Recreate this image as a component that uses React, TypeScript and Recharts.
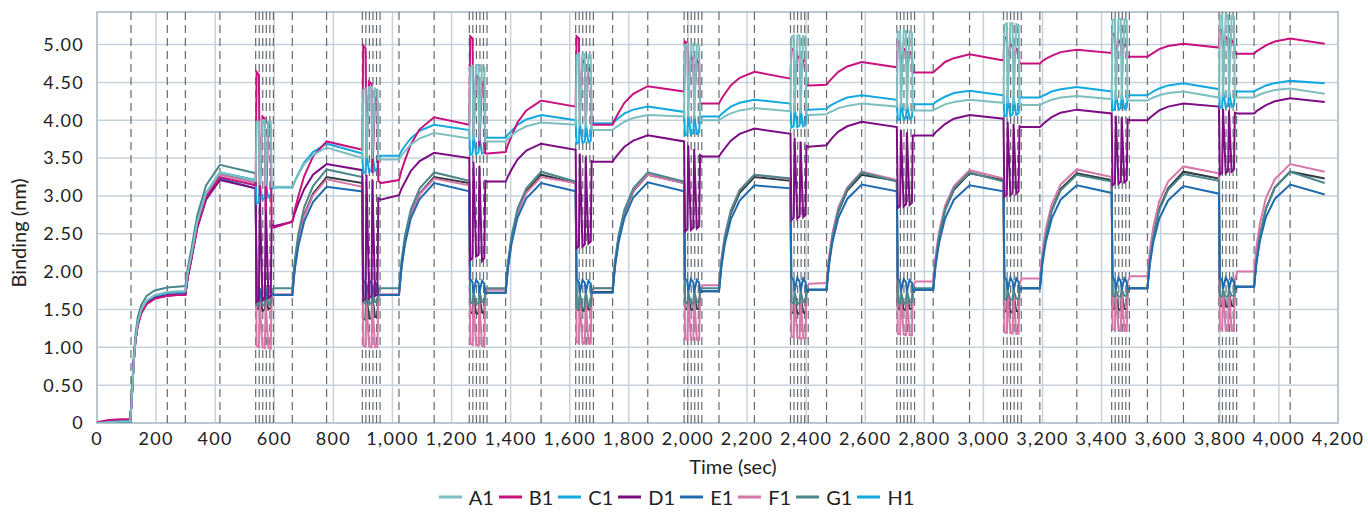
import { CartesianGrid, Legend, Line, LineChart, ReferenceArea, ReferenceLine, XAxis, YAxis } from 'recharts';

const FONT = 'Lato, "Noto Sans", sans-serif';

// time axis (sec): start-up, then one row per binding cycle
// cycle row = start, rise x4, peak, regen start, 3 regen pulses (in, hold, out), settle
const time = [
  0, 40, 80, 112, 116, 120, 124, 130, 138, 150, 168, 195, 238, 270,
  299, 307, 319, 339, 369, 416, 537, 540, 548, 551, 560, 568, 571, 580, 588, 591, 599,
  661, 669, 681, 701, 731, 777, 898, 901, 909, 912, 921, 929, 932, 941, 949, 952, 960,
  1022, 1030, 1042, 1062, 1092, 1141, 1260, 1263, 1271, 1274, 1283, 1291, 1294, 1303, 1311, 1314, 1322,
  1383, 1391, 1403, 1423, 1453, 1503, 1620, 1623, 1631, 1634, 1643, 1651, 1654, 1663, 1671, 1674, 1682,
  1745, 1753, 1765, 1785, 1815, 1864, 1987, 1990, 1998, 2001, 2010, 2018, 2021, 2030, 2038, 2041, 2049,
  2105, 2113, 2125, 2145, 2175, 2225, 2347, 2350, 2358, 2361, 2370, 2378, 2381, 2390, 2398, 2401, 2409,
  2469, 2477, 2489, 2509, 2539, 2588, 2707, 2710, 2718, 2721, 2730, 2738, 2741, 2750, 2758, 2761, 2769,
  2830, 2838, 2850, 2870, 2900, 2953, 3068, 3071, 3079, 3082, 3091, 3099, 3102, 3111, 3119, 3122, 3130,
  3191, 3199, 3211, 3231, 3261, 3316, 3434, 3437, 3445, 3448, 3457, 3465, 3468, 3477, 3485, 3488, 3496,
  3555, 3563, 3575, 3595, 3625, 3677, 3797, 3800, 3808, 3811, 3820, 3828, 3831, 3840, 3848, 3851, 3859,
  3916, 3924, 3936, 3956, 3986, 4038, 4155,
];

const a1 = [
  0.00, 0.01, 0.02, 0.02, 0.20, 0.48, 0.78, 1.10, 1.33, 1.50, 1.62, 1.69, 1.73, 1.74,
  1.74, 1.98, 2.21, 2.65, 3.04, 3.31, 3.20, 3.98, 3.98, 3.14, 4.00, 4.00, 3.13, 3.98, 3.98, 3.12, 3.12,
  3.12, 3.19, 3.28, 3.42, 3.54, 3.64, 3.50, 4.40, 4.42, 3.50, 4.44, 4.44, 3.49, 4.42, 4.40, 3.48, 3.48,
  3.48, 3.53, 3.59, 3.68, 3.76, 3.83, 3.76, 4.70, 4.72, 3.74, 4.73, 4.73, 3.73, 4.72, 4.70, 3.72, 3.72,
  3.72, 3.76, 3.80, 3.86, 3.92, 3.97, 3.94, 4.86, 4.88, 3.92, 4.88, 4.88, 3.90, 4.86, 4.86, 3.88, 3.87,
  3.87, 3.90, 3.93, 3.98, 4.03, 4.07, 4.05, 4.99, 5.01, 4.04, 5.01, 5.01, 4.02, 5.00, 4.99, 4.00, 4.00,
  4.00, 4.02, 4.05, 4.09, 4.13, 4.16, 4.12, 5.10, 5.12, 4.10, 5.12, 5.12, 4.09, 5.11, 5.10, 4.07, 4.07,
  4.08, 4.10, 4.12, 4.16, 4.19, 4.22, 4.18, 5.16, 5.18, 4.16, 5.18, 5.18, 4.15, 5.17, 5.16, 4.13, 4.13,
  4.13, 4.15, 4.17, 4.21, 4.24, 4.27, 4.23, 5.26, 5.28, 4.22, 5.28, 5.28, 4.21, 5.27, 5.26, 4.20, 4.20,
  4.20, 4.22, 4.24, 4.27, 4.30, 4.32, 4.28, 5.32, 5.34, 4.27, 5.34, 5.34, 4.27, 5.33, 5.32, 4.26, 4.26,
  4.26, 4.28, 4.30, 4.33, 4.36, 4.38, 4.30, 5.37, 5.39, 4.30, 5.39, 5.39, 4.30, 5.38, 5.37, 4.30, 4.30,
  4.30, 4.32, 4.34, 4.37, 4.40, 4.42, 4.35,
];

const b1 = [
  0.01, 0.04, 0.05, 0.05, 0.22, 0.50, 0.80, 1.08, 1.29, 1.45, 1.57, 1.64, 1.68, 1.69,
  1.69, 1.92, 2.16, 2.59, 2.98, 3.25, 3.14, 4.64, 4.60, 3.00, 4.05, 4.02, 2.80, 3.95, 3.90, 2.60, 2.58,
  2.66, 2.81, 2.99, 3.26, 3.52, 3.72, 3.61, 4.99, 4.95, 3.55, 4.51, 4.48, 3.30, 4.30, 4.25, 3.20, 3.17,
  3.21, 3.33, 3.47, 3.68, 3.88, 4.04, 3.94, 5.11, 5.08, 3.80, 4.60, 4.55, 3.65, 4.50, 4.45, 3.56, 3.56,
  3.58, 3.68, 3.79, 3.97, 4.13, 4.26, 4.18, 5.11, 5.08, 4.05, 4.80, 4.75, 3.98, 4.70, 4.65, 3.94, 3.94,
  3.94, 4.01, 4.10, 4.23, 4.35, 4.45, 4.38, 5.04, 5.02, 4.30, 4.85, 4.80, 4.25, 4.80, 4.75, 4.22, 4.22,
  4.22, 4.28, 4.35, 4.46, 4.56, 4.64, 4.55, 4.95, 4.92, 4.50, 4.85, 4.82, 4.48, 4.80, 4.78, 4.46, 4.46,
  4.47, 4.51, 4.56, 4.64, 4.71, 4.77, 4.70, 5.05, 5.02, 4.66, 4.95, 4.92, 4.64, 4.90, 4.88, 4.63, 4.63,
  4.63, 4.66, 4.70, 4.77, 4.82, 4.87, 4.79, 5.10, 5.08, 4.77, 5.00, 4.98, 4.76, 4.95, 4.92, 4.75, 4.75,
  4.75, 4.78, 4.81, 4.85, 4.90, 4.93, 4.89, 5.15, 5.12, 4.86, 5.05, 5.02, 4.85, 5.00, 4.98, 4.84, 4.84,
  4.84, 4.86, 4.89, 4.94, 4.98, 5.01, 4.96, 5.20, 5.18, 4.92, 5.10, 5.08, 4.90, 5.05, 5.02, 4.88, 4.88,
  4.88, 4.91, 4.94, 4.99, 5.04, 5.08, 5.01,
];

const c1 = [
  0.00, 0.02, 0.02, 0.02, 0.21, 0.49, 0.79, 1.10, 1.33, 1.49, 1.61, 1.68, 1.72, 1.73,
  1.73, 1.97, 2.20, 2.65, 3.04, 3.31, 3.21, 2.90, 2.92, 3.15, 2.95, 2.97, 3.13, 2.98, 3.00, 3.12, 3.11,
  3.11, 3.19, 3.29, 3.44, 3.58, 3.69, 3.56, 3.30, 3.32, 3.55, 3.32, 3.34, 3.54, 3.33, 3.35, 3.53, 3.53,
  3.53, 3.59, 3.66, 3.76, 3.86, 3.94, 3.87, 3.54, 3.56, 3.82, 3.55, 3.57, 3.80, 3.56, 3.58, 3.78, 3.77,
  3.77, 3.81, 3.86, 3.94, 4.01, 4.07, 4.00, 3.69, 3.71, 3.98, 3.70, 3.72, 3.97, 3.71, 3.73, 3.96, 3.96,
  3.96, 3.99, 4.03, 4.09, 4.14, 4.18, 4.11, 3.80, 3.82, 4.08, 3.81, 3.83, 4.07, 3.82, 3.84, 4.05, 4.05,
  4.05, 4.08, 4.12, 4.18, 4.23, 4.27, 4.22, 3.90, 3.92, 4.18, 3.91, 3.93, 4.16, 3.92, 3.94, 4.14, 4.14,
  4.15, 4.18, 4.21, 4.25, 4.30, 4.33, 4.27, 4.00, 4.02, 4.25, 4.01, 4.03, 4.23, 4.02, 4.04, 4.21, 4.21,
  4.21, 4.24, 4.27, 4.31, 4.36, 4.39, 4.33, 4.05, 4.07, 4.32, 4.06, 4.08, 4.31, 4.07, 4.09, 4.30, 4.30,
  4.30, 4.32, 4.34, 4.38, 4.41, 4.44, 4.38, 4.13, 4.15, 4.36, 4.14, 4.16, 4.35, 4.15, 4.17, 4.33, 4.33,
  4.33, 4.35, 4.38, 4.42, 4.46, 4.49, 4.41, 4.16, 4.18, 4.40, 4.17, 4.19, 4.39, 4.18, 4.20, 4.38, 4.38,
  4.38, 4.40, 4.42, 4.46, 4.49, 4.52, 4.49,
];

const d1 = [
  0.00, 0.03, 0.04, 0.04, 0.22, 0.50, 0.80, 1.08, 1.30, 1.46, 1.58, 1.65, 1.68, 1.69,
  1.69, 1.92, 2.15, 2.57, 2.95, 3.21, 3.10, 1.60, 1.62, 3.05, 1.62, 1.64, 2.95, 1.65, 1.68, 2.62, 2.60,
  2.66, 2.77, 2.90, 3.09, 3.28, 3.42, 3.34, 1.62, 1.64, 3.28, 1.65, 1.68, 3.22, 1.68, 1.70, 2.97, 2.95,
  3.01, 3.09, 3.18, 3.33, 3.46, 3.57, 3.50, 2.15, 2.18, 3.45, 2.20, 2.22, 3.40, 2.14, 2.18, 3.20, 3.19,
  3.19, 3.26, 3.35, 3.48, 3.60, 3.69, 3.61, 2.31, 2.34, 3.56, 2.33, 2.36, 3.52, 2.37, 2.40, 3.46, 3.45,
  3.45, 3.50, 3.56, 3.65, 3.73, 3.80, 3.72, 2.53, 2.56, 3.67, 2.55, 2.58, 3.62, 2.57, 2.60, 3.54, 3.52,
  3.52, 3.57, 3.63, 3.73, 3.82, 3.89, 3.82, 2.68, 2.71, 3.77, 2.70, 2.73, 3.72, 2.72, 2.75, 3.66, 3.65,
  3.67, 3.71, 3.77, 3.85, 3.92, 3.98, 3.91, 2.84, 2.87, 3.87, 2.86, 2.89, 3.84, 2.88, 2.91, 3.80, 3.80,
  3.80, 3.84, 3.88, 3.95, 4.02, 4.07, 4.02, 2.99, 3.02, 3.98, 3.01, 3.04, 3.95, 3.03, 3.06, 3.92, 3.91,
  3.91, 3.94, 3.98, 4.04, 4.10, 4.14, 4.09, 3.14, 3.17, 4.06, 3.16, 3.19, 4.04, 3.18, 3.21, 4.01, 4.00,
  4.00, 4.03, 4.07, 4.13, 4.18, 4.22, 4.18, 3.28, 3.31, 4.15, 3.30, 3.33, 4.13, 3.32, 3.35, 4.10, 4.09,
  4.09, 4.12, 4.15, 4.20, 4.25, 4.29, 4.24,
];

const e1 = [
  0.00, 0.01, 0.02, 0.02, 0.21, 0.49, 0.79, 1.09, 1.31, 1.47, 1.59, 1.66, 1.69, 1.70,
  1.70, 1.93, 2.16, 2.59, 2.97, 3.23, 3.10, 1.62, 1.64, 1.78, 1.64, 1.66, 1.76, 1.66, 1.68, 1.72, 1.69,
  1.69, 2.02, 2.33, 2.66, 2.92, 3.12, 3.06, 1.88, 1.85, 1.70, 1.88, 1.84, 1.70, 1.86, 1.82, 1.70, 1.69,
  1.69, 2.03, 2.36, 2.70, 2.96, 3.17, 3.06, 1.90, 1.86, 1.72, 1.89, 1.85, 1.72, 1.88, 1.84, 1.72, 1.72,
  1.72, 2.05, 2.37, 2.71, 2.97, 3.17, 3.06, 1.90, 1.86, 1.72, 1.89, 1.85, 1.72, 1.88, 1.84, 1.72, 1.72,
  1.72, 2.06, 2.38, 2.71, 2.98, 3.18, 3.06, 1.91, 1.87, 1.73, 1.90, 1.86, 1.73, 1.89, 1.85, 1.74, 1.74,
  1.74, 2.06, 2.37, 2.69, 2.94, 3.14, 3.10, 1.93, 1.88, 1.74, 1.92, 1.87, 1.74, 1.91, 1.86, 1.75, 1.76,
  1.76, 2.08, 2.39, 2.71, 2.96, 3.15, 3.06, 1.91, 1.87, 1.74, 1.90, 1.86, 1.74, 1.89, 1.85, 1.75, 1.76,
  1.76, 2.08, 2.38, 2.70, 2.95, 3.14, 3.06, 1.93, 1.88, 1.75, 1.92, 1.87, 1.75, 1.91, 1.86, 1.77, 1.78,
  1.78, 2.09, 2.39, 2.70, 2.95, 3.14, 3.04, 1.93, 1.88, 1.76, 1.92, 1.87, 1.76, 1.91, 1.86, 1.77, 1.78,
  1.78, 2.09, 2.39, 2.70, 2.94, 3.13, 3.03, 1.93, 1.88, 1.77, 1.92, 1.87, 1.77, 1.91, 1.86, 1.78, 1.80,
  1.80, 2.11, 2.41, 2.72, 2.96, 3.15, 3.02,
];

const f1 = [
  0.00, 0.02, 0.03, 0.03, 0.22, 0.50, 0.80, 1.10, 1.32, 1.48, 1.60, 1.67, 1.71, 1.72,
  1.72, 1.95, 2.19, 2.62, 3.01, 3.28, 3.17, 1.02, 1.00, 1.60, 1.00, 0.99, 1.62, 0.99, 0.98, 1.66, 1.70,
  1.70, 2.05, 2.38, 2.73, 3.01, 3.22, 3.12, 1.02, 1.01, 1.60, 1.01, 1.00, 1.62, 1.00, 1.00, 1.66, 1.70,
  1.70, 2.05, 2.39, 2.74, 3.02, 3.23, 3.14, 1.05, 1.03, 1.62, 1.03, 1.02, 1.64, 1.02, 1.01, 1.70, 1.76,
  1.76, 2.10, 2.43, 2.77, 3.04, 3.25, 3.17, 1.07, 1.06, 1.64, 1.06, 1.05, 1.66, 1.05, 1.05, 1.72, 1.78,
  1.78, 2.13, 2.46, 2.80, 3.07, 3.28, 3.17, 1.11, 1.10, 1.66, 1.10, 1.10, 1.68, 1.10, 1.10, 1.76, 1.82,
  1.82, 2.16, 2.48, 2.81, 3.08, 3.28, 3.22, 1.14, 1.13, 1.68, 1.13, 1.12, 1.70, 1.12, 1.12, 1.78, 1.84,
  1.85, 2.19, 2.51, 2.85, 3.11, 3.32, 3.21, 1.18, 1.17, 1.70, 1.17, 1.16, 1.72, 1.16, 1.16, 1.80, 1.87,
  1.87, 2.21, 2.53, 2.87, 3.13, 3.34, 3.23, 1.20, 1.19, 1.72, 1.19, 1.18, 1.74, 1.18, 1.18, 1.84, 1.91,
  1.91, 2.24, 2.56, 2.89, 3.15, 3.35, 3.25, 1.24, 1.23, 1.74, 1.23, 1.22, 1.76, 1.22, 1.22, 1.86, 1.94,
  1.94, 2.27, 2.59, 2.93, 3.19, 3.39, 3.30, 1.24, 1.23, 1.76, 1.23, 1.22, 1.78, 1.22, 1.22, 1.90, 2.00,
  2.00, 2.33, 2.64, 2.97, 3.22, 3.42, 3.32,
];

const g1 = [
  0.00, 0.02, 0.03, 0.03, 0.24, 0.53, 0.85, 1.16, 1.40, 1.56, 1.68, 1.75, 1.79, 1.80,
  1.81, 2.05, 2.29, 2.74, 3.14, 3.41, 3.30, 1.56, 1.55, 1.72, 1.55, 1.56, 1.73, 1.57, 1.58, 1.76, 1.78,
  1.78, 2.14, 2.49, 2.85, 3.13, 3.35, 3.25, 1.60, 1.58, 1.72, 1.58, 1.58, 1.73, 1.60, 1.60, 1.76, 1.78,
  1.78, 2.13, 2.47, 2.82, 3.10, 3.31, 3.20, 1.60, 1.58, 1.74, 1.58, 1.58, 1.75, 1.60, 1.60, 1.77, 1.78,
  1.78, 2.13, 2.47, 2.83, 3.10, 3.32, 3.19, 1.52, 1.50, 1.72, 1.52, 1.52, 1.74, 1.54, 1.55, 1.77, 1.78,
  1.78, 2.13, 2.47, 2.82, 3.10, 3.31, 3.19, 1.60, 1.58, 1.73, 1.58, 1.58, 1.75, 1.60, 1.60, 1.77, 1.78,
  1.78, 2.13, 2.46, 2.80, 3.07, 3.28, 3.23, 1.60, 1.58, 1.73, 1.58, 1.58, 1.75, 1.60, 1.60, 1.76, 1.76,
  1.76, 2.12, 2.46, 2.81, 3.09, 3.31, 3.19, 1.60, 1.58, 1.74, 1.58, 1.58, 1.75, 1.60, 1.60, 1.77, 1.78,
  1.78, 2.13, 2.47, 2.82, 3.10, 3.31, 3.19, 1.64, 1.63, 1.75, 1.63, 1.63, 1.76, 1.64, 1.64, 1.78, 1.78,
  1.78, 2.13, 2.46, 2.80, 3.07, 3.28, 3.19, 1.68, 1.67, 1.76, 1.67, 1.67, 1.77, 1.68, 1.68, 1.78, 1.78,
  1.78, 2.13, 2.46, 2.81, 3.08, 3.29, 3.20, 1.68, 1.67, 1.76, 1.67, 1.67, 1.77, 1.68, 1.68, 1.79, 1.80,
  1.80, 2.15, 2.48, 2.83, 3.11, 3.32, 3.17,
];

const h1 = [
  0.00, 0.01, 0.02, 0.02, 0.21, 0.49, 0.79, 1.09, 1.31, 1.47, 1.59, 1.66, 1.69, 1.70,
  1.70, 1.94, 2.18, 2.63, 3.03, 3.30, 3.17, 1.52, 1.50, 1.66, 1.48, 1.50, 1.66, 1.50, 1.52, 1.68, 1.69,
  1.69, 2.05, 2.39, 2.75, 3.03, 3.25, 3.17, 1.38, 1.36, 1.66, 1.38, 1.38, 1.66, 1.40, 1.40, 1.68, 1.69,
  1.69, 2.05, 2.39, 2.75, 3.03, 3.25, 3.17, 1.46, 1.45, 1.66, 1.45, 1.44, 1.68, 1.46, 1.45, 1.70, 1.72,
  1.72, 2.08, 2.42, 2.78, 3.06, 3.28, 3.17, 1.50, 1.49, 1.68, 1.49, 1.48, 1.69, 1.50, 1.50, 1.71, 1.73,
  1.73, 2.09, 2.43, 2.78, 3.06, 3.28, 3.17, 1.51, 1.50, 1.68, 1.50, 1.49, 1.70, 1.51, 1.50, 1.72, 1.74,
  1.74, 2.09, 2.42, 2.77, 3.04, 3.25, 3.20, 1.46, 1.45, 1.66, 1.45, 1.44, 1.68, 1.46, 1.45, 1.72, 1.76,
  1.76, 2.11, 2.44, 2.79, 3.07, 3.28, 3.20, 1.51, 1.50, 1.68, 1.50, 1.49, 1.70, 1.51, 1.50, 1.73, 1.76,
  1.76, 2.11, 2.45, 2.81, 3.08, 3.30, 3.21, 1.48, 1.47, 1.68, 1.47, 1.46, 1.70, 1.48, 1.47, 1.75, 1.78,
  1.78, 2.13, 2.46, 2.81, 3.09, 3.30, 3.21, 1.51, 1.50, 1.69, 1.50, 1.49, 1.71, 1.51, 1.50, 1.75, 1.78,
  1.78, 2.13, 2.47, 2.83, 3.10, 3.32, 3.23, 1.55, 1.54, 1.70, 1.54, 1.53, 1.72, 1.55, 1.54, 1.76, 1.80,
  1.80, 2.15, 2.48, 2.83, 3.11, 3.32, 3.23,
];

// injection / regeneration markers (sec)
const eventTimes = [
  115, 238, 299, 416,
  537, 549, 561, 573, 585, 597, 661, 777,
  898, 910, 922, 934, 946, 958, 1022, 1141,
  1260, 1272, 1284, 1296, 1308, 1320, 1383, 1503,
  1620, 1632, 1644, 1656, 1668, 1680, 1745, 1864,
  1987, 1999, 2011, 2023, 2035, 2047, 2105, 2225,
  2347, 2359, 2371, 2383, 2395, 2407, 2469, 2588,
  2707, 2719, 2731, 2743, 2755, 2767, 2830, 2953,
  3068, 3080, 3092, 3104, 3116, 3128, 3191, 3316,
  3434, 3446, 3458, 3470, 3482, 3494, 3555, 3677,
  3797, 3809, 3821, 3833, 3845, 3857, 3916, 4038,
];

const xTicks = [0, 200, 400, 600, 800, 1000, 1200, 1400, 1600, 1800, 2000, 2200, 2400, 2600, 2800, 3000, 3200, 3400, 3600, 3800, 4000, 4200];
const yTicks = [0, 0.5, 1, 1.5, 2, 2.5, 3, 3.5, 4, 4.5, 5];

const series = [
  { key: 'A1', values: a1, color: '#7dbfc0', legendColor: '#7dbfc0' },
  { key: 'B1', values: b1, color: '#c8127f', legendColor: '#c8127f' },
  { key: 'C1', values: c1, color: '#12a9e0', legendColor: '#12a9e0' },
  { key: 'D1', values: d1, color: '#7d0d82', legendColor: '#7d0d82' },
  { key: 'E1', values: e1, color: '#1f6bb0', legendColor: '#1f6bb0' },
  { key: 'F1', values: f1, color: '#d676a9', legendColor: '#d676a9' },
  { key: 'G1', values: g1, color: '#4b878b', legendColor: '#4b878b' },
  { key: 'H1', values: h1, color: '#2f3b40', legendColor: '#12a9e0' },
];

const drawOrder = ['H1', 'F1', 'G1', 'E1', 'D1', 'C1', 'B1', 'A1'];

const data = time.map((t, i) => {
  const row: Record<string, number> = { t };
  series.forEach(s => { row[s.key] = s.values[i]; });
  return row;
});

function LegendContent() {
  return (
    <div style={{ display: 'flex', justifyContent: 'center', alignItems: 'center', height: 30, fontFamily: FONT, fontSize: 20, color: '#222' }}>
      {series.map(s => (
        <div key={s.key} style={{ display: 'flex', alignItems: 'center', marginRight: 5 }}>
          <svg width={23} height={4} style={{ marginRight: 7 }}>
            <line x1={0} y1={2} x2={23} y2={2} stroke={s.legendColor} strokeWidth={3} />
          </svg>
          <span>{s.key}</span>
        </div>
      ))}
    </div>
  );
}

export default function App() {
  const tickStyle = { fill: '#222', fontSize: 18, fontFamily: FONT, letterSpacing: 1.3 };
  return (
    <div style={{ position: 'absolute', left: 0, top: 0, width: 1368, height: 515, background: '#fff' }}>
      <LineChart width={1368} height={515} data={data} margin={{ top: 12, right: 30, left: 0, bottom: 3 }}>
        <CartesianGrid stroke="#c9d2da" strokeWidth={1.5} />
        <XAxis
          dataKey="t"
          type="number"
          domain={[0, 4200]}
          ticks={xTicks}
          height={59}
          axisLine={false}
          tickLine={false}
          tickSize={0}
          tickMargin={9}
          tick={tickStyle}
          tickFormatter={(v) => Number(v).toLocaleString('en-US')}
          label={() => (
            <text x={733} y={474} textAnchor="middle" fontSize={20} fontFamily={FONT} fill="#222">Time (sec)</text>
          )}
        />
        <YAxis
          type="number"
          domain={[0, 5.43]}
          ticks={yTicks}
          width={97}
          allowDataOverflow
          axisLine={false}
          tickLine={false}
          tickSize={0}
          tickMargin={13}
          tick={tickStyle}
          tickFormatter={(v) => (v === 0 ? '0' : Number(v).toFixed(2))}
          label={() => (
            <text x={18} y={233} transform="rotate(-90 18 233)" textAnchor="middle" dominantBaseline="central" fontSize={20} fontFamily={FONT} fill="#222">
              Binding (nm)
            </text>
          )}
        />
        <ReferenceArea x1={0} x2={4200} y1={0} y2={5.43} fill="none" stroke="#bcc6ce" strokeWidth={2} />
        {eventTimes.map(t => (
          <ReferenceLine key={t} x={t} stroke="#646c71" strokeWidth={1.2} strokeDasharray="8 5" />
        ))}
        {drawOrder.map(k => {
          const s = series.find(x => x.key === k)!;
          return (
            <Line key={k} type="linear" dataKey={k} stroke={s.color} strokeWidth={2} dot={false} isAnimationActive={false} />
          );
        })}
        <Legend verticalAlign="bottom" content={LegendContent} wrapperStyle={{ left: 0, width: 1358 }} />
      </LineChart>
    </div>
  );
}
